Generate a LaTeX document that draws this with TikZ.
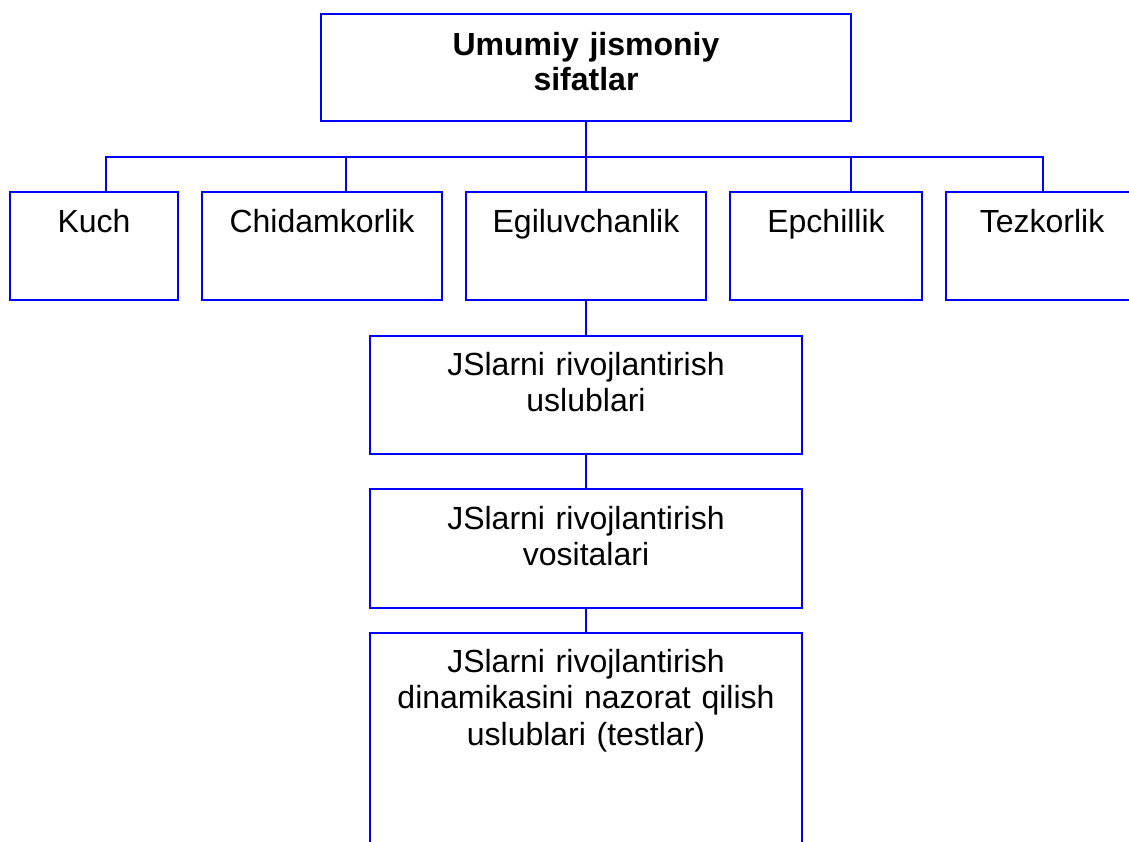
\documentclass[tikz,border=0pt]{standalone}
\usepackage{fontspec}
\setmainfont{Liberation Sans}
\begin{document}
\begin{tikzpicture}[x=1pt,y=-1pt,
  box/.style={draw=blue, line width=2pt, rectangle, inner sep=0pt},
  conn/.style={draw=blue, line width=2pt},
  lbl/.style={text width=#1, align=center, anchor=base, inner sep=0pt,
    font=\fontsize{32}{36.8}\selectfont},
  lbl/.default=420pt]
\useasboundingbox (0,0) rectangle (1129,841);
\clip (0,0) rectangle (1129,841);
% boxes
\node[box, minimum width=530pt, minimum height=107pt] (top) at (586,67.5) {};
\node[box, minimum width=168pt, minimum height=108pt] (kuch) at (94,246) {};
\node[box, minimum width=240pt, minimum height=108pt] (chid) at (322,246) {};
\node[box, minimum width=240pt, minimum height=108pt] (egil) at (586,246) {};
\node[box, minimum width=192pt, minimum height=108pt] (epch) at (826,246) {};
\node[box, minimum width=192pt, minimum height=108pt] (tez) at (1042,246) {};
\node[box, minimum width=432pt, minimum height=118pt] (usl) at (586,395) {};
\node[box, minimum width=432pt, minimum height=119pt] (vos) at (586,548.5) {};
\node[box, minimum width=432pt, minimum height=247pt] (test) at (586,756.5) {};
% texts
\node[lbl=520pt, font=\fontsize{32}{35}\selectfont\bfseries] (ttop) at ([yshift=-42pt]top.north) {Umumiy jismoniy\\sifatlar};
\node[lbl=160pt] (tkuch) at ([yshift=-41pt]kuch.north) {Kuch};
\node[lbl=236pt] (tchid) at ([yshift=-41pt]chid.north) {Chidamkorlik};
\node[lbl=236pt] (tegil) at ([yshift=-41pt]egil.north) {Egiluvchanlik};
\node[lbl=188pt] (tepch) at ([yshift=-41pt]epch.north) {Epchillik};
\node[lbl=188pt] (ttez) at ([yshift=-41pt]tez.north) {Tezkorlik};
\node[lbl] (tusl) at ([yshift=-40pt]usl.north) {JSlarni rivojlantirish\\uslublari};
\node[lbl] (tvos) at ([yshift=-41pt]vos.north) {JSlarni rivojlantirish\\vositalari};
\node[lbl] (ttest) at ([yshift=-40pt]test.north) {JSlarni rivojlantirish\\dinamikasini nazorat qilish\\uslublari (testlar)};
% connectors
\coordinate (bL) at (106,157);
\coordinate (bC) at (346,157);
\coordinate (bE) at (851,157);
\coordinate (bR) at (1043,157);
\draw[conn] (top.south) -- (egil.north);
\draw[conn] (kuch.north -| bL) -- (bL) -- (bR) -- (bR |- tez.north);
\draw[conn] (bC) -- (bC |- chid.north);
\draw[conn] (bE) -- (bE |- epch.north);
\draw[conn] (egil.south) -- (usl.north);
\draw[conn] (usl.south) -- (vos.north);
\draw[conn] (vos.south) -- (test.north);
\end{tikzpicture}
\end{document}
